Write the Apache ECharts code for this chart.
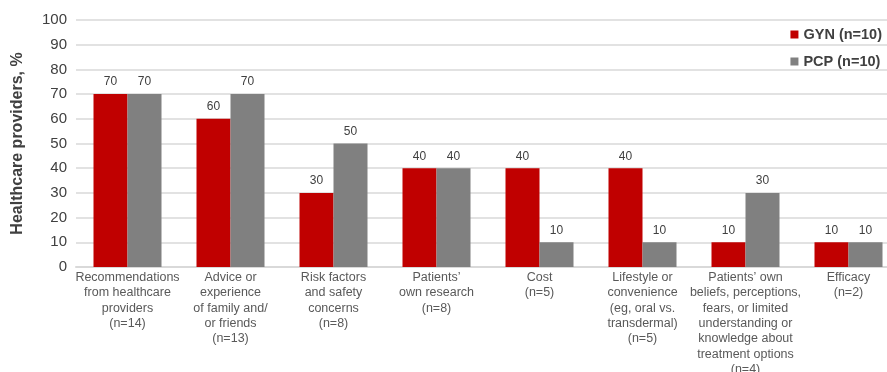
<!DOCTYPE html>
<html>
<head>
<meta charset="utf-8">
<script src="https://cdn.jsdelivr.net/npm/echarts@6/dist/echarts.min.js"></script>
<style>
  html, body { margin: 0; padding: 0; background: #fff; }
  #chart { width: 887px; height: 372px; }
</style>
</head>
<body>
<div id="chart"></div>
<script>
var categories = [
  'Recommendations\nfrom healthcare\nproviders\n(n=14)',
  'Advice or\nexperience\nof family and/\nor friends\n(n=13)',
  'Risk factors\nand safety\nconcerns\n(n=8)',
  'Patients\u2019\nown research\n(n=8)',
  'Cost\n(n=5)',
  'Lifestyle or\nconvenience\n(eg, oral vs.\ntransdermal)\n(n=5)',
  'Patients\u2019 own\nbeliefs, perceptions,\nfears, or limited\nunderstanding or\nknowledge about\ntreatment options\n(n=4)',
  'Efficacy\n(n=2)'
];
var gynValues = [70, 60, 30, 40, 40, 40, 10, 10];
var pcpValues = [70, 70, 50, 40, 10, 10, 30, 10];
var seriesNames = ['GYN (n=10)', 'PCP (n=10)'];

var font = '"Liberation Sans", Arial, Helvetica, sans-serif';
var chart = echarts.init(document.getElementById('chart'));

function barLabel() {
  return { show: true, position: 'top', distance: 6, color: '#404040', fontSize: 12, fontFamily: font };
}

chart.setOption({
  animation: false,
  textStyle: { fontFamily: font },
  grid: { left: 76, top: 20, width: 824, height: 247, containLabel: false, outerBoundsMode: 'none' },
  legend: {
    orient: 'vertical',
    right: 0,
    top: 22,
    itemWidth: 8,
    itemHeight: 8,
    itemGap: 12,
    icon: 'rect',
    textStyle: { fontSize: 14.5, fontWeight: 'bold', color: '#404040', fontFamily: font },
    data: seriesNames
  },
  xAxis: {
    type: 'category',
    data: categories,
    axisTick: { show: false },
    axisLine: { lineStyle: { color: '#d9d9d9', width: 2 } },
    axisLabel: {
      interval: 0,
      margin: 3,
      color: '#595959',
      fontSize: 12.5,
      lineHeight: 15.3,
      fontFamily: font,
      overflow: 'none'
    }
  },
  yAxis: {
    type: 'value',
    min: 0,
    max: 100,
    interval: 10,
    name: 'Healthcare providers, %',
    nameLocation: 'middle',
    nameGap: 50,
    nameTextStyle: { fontSize: 16, fontWeight: 'bold', color: '#404040', fontFamily: font },
    axisLine: { show: false },
    axisTick: { show: false },
    axisLabel: { color: '#404040', fontSize: 15, margin: 9, fontFamily: font },
    splitLine: { lineStyle: { color: '#d9d9d9', width: 1.5 } }
  },
  series: [
    {
      name: seriesNames[0],
      type: 'bar',
      data: gynValues,
      barWidth: 34,
      barGap: '0%',
      itemStyle: { color: '#c00000' },
      label: barLabel()
    },
    {
      name: seriesNames[1],
      type: 'bar',
      data: pcpValues,
      barWidth: 34,
      barGap: '0%',
      itemStyle: { color: '#808080' },
      label: barLabel()
    }
  ]
});
</script>
</body>
</html>
